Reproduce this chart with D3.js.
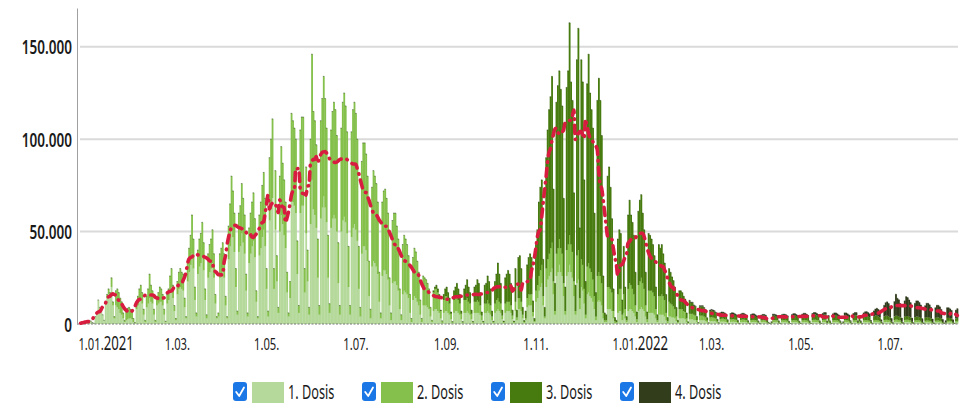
<!DOCTYPE html>
<html>
<head>
<meta charset="utf-8">
<script src="https://cdn.jsdelivr.net/npm/d3@7"></script>
<style>
  body { margin: 0; background: #fff; }
  svg { display: block; font-family: "Noto Sans", "DejaVu Sans", sans-serif; }
</style>
</head>
<body>
<svg id="chart" width="968" height="404"></svg>
<script>
// Tägliche Impfungen (in Tausend), eine Zeile = eine Woche (Mo–So)
const START = "2021-01-01";
const DOSE3_START = "2021-08-30";
const DOSE4_START = "2022-02-21";

const DOSE1 = [
  0.3,0.2,0.1,
  1.2,1.5,1.8,2.0,1.6,0.8,0.4,   // 04.01.
  4,6,13,9,8,5,2,
  11,14,16,14,20,10,3,
  10,9,8,6,5,3,1,
  2,2.5,3,3,2.5,1,0.3,           // 01.02.
  8,10,12,13,11,5,1,
  9,11,14,12,11,5,1,
  10,11,12,12,10,5,1,
  11,13,17,20,14,7,2,            // 01.03.
  16,19,20,19,18,9,3,
  23,28,32,38,30,13,4,
  27,31,33,36,29,13,3,
  25,28,30,33,25,11,3,
  4,25,27,29,25,10,3,            // 05.04.
  35,42,52,47,39,20,5,
  39,42,49,44,38,18,4,
  33,38,42,45,36,12,3,
  37,41,47,51,42,19,4,           // 03.05.
  56,62,68,19,51,23,6,
  50,59,54,48,41,17,4,
  14,68,66,64,60,27,6,
  60,64,64,17,49,23,5,           // 31.05.
  54,78,62,59,52,25,5,
  57,63,69,63,55,25,6,
  52,57,59,57,50,22,5,
  50,56,58,55,49,20,5,           // 28.06.
  47,52,54,51,45,19,4,
  38,42,42,40,34,15,3,
  31,34,33,31,27,12,3,
  26,29,29,27,24,10,2,
  22,23,23,21,18,8,2,            // 02.08.
  16,18,17,16,14,6,1,
  13,15,14,12,10,5,1,
  10,10,10,9,8,4,1,
  7,8,8,7,6,3,0.5,               // 30.08.
  6,7,7,6,5,2.5,0.5,
  6,7,7,6,5,2.5,0.5,
  6,6,7,6,5,2.5,0.5,
  6,6,6,6,5,2,0.5,
  6,6,7,6,5,2,0.5,               // 04.10.
  6,7,8,7,6,2.5,0.5,
  6,7,7,7,6,2.5,0.5,
  7,2,8,8,7,3,0.6,
  2,9,10,10,10,4,1,              // 01.11.
  12,14,18,20,22,10,3,
  20,24,26,28,30,16,5,
  26,28,32,28,26,15,5,
  26,28,32,28,25,15,5,           // 29.11.
  22,24,8,20,18,11,3,
  16,17,15,14,12,8,2,
  12,13,12,10,3,1,1,
  8,8,8,7,3,0.5,0.5,
  6,7,7,2,6,3,1,                 // 03.01.2022
  7,8,8,7,6,4,1,
  7,8,9,8,7,4,1,
  6,6,6,6,5,3,1,
  5,5,5,5,4,2,0.5,               // 31.01.
  4,4,3.5,3.5,3,1.5,0.5,
  3,3,3,3,2.5,1,0.3,
  2.5,2.5,2.5,2,2,1,0.2,
  2,2,2,2,1.5,0.8,0.2,           // 28.02.
  1.5,1.6,1.5,1.5,1.3,0.6,0.2,
  1.2,1.3,1.3,1.2,1.1,0.5,0.1,
  1.1,1.2,1.2,1.1,1,0.4,0.1,
  1,1.1,1.1,1,0.9,0.4,0.1,
  0.9,1,1,0.9,0.8,0.3,0.1,       // 04.04.
  0.9,1,1,0.9,0.4,0.2,0.05,
  0.2,1,1,1,0.9,0.3,0.1,
  0.9,1,1,0.9,0.8,0.3,0.05,
  0.9,1,1,0.9,0.8,0.3,0.1,       // 02.05.
  0.9,1,1,0.9,0.8,0.3,0.1,
  1,1.1,1.1,1,0.9,0.3,0.1,
  1,1.1,1.1,0.3,0.8,0.3,0.1,
  0.9,1,1,0.9,0.8,0.3,0.1,       // 30.05.
  0.2,1,1,0.9,0.8,0.3,0.1,
  0.9,1,1,0.3,0.7,0.3,0.1,
  0.9,1,1,0.9,0.8,0.3,0.1,
  0.9,1.1,1,0.9,0.8,0.3,0.1,     // 27.06.
  1,1.1,1.1,1,0.9,0.3,0.1,
  1,1.2,1.1,1,0.9,0.3,0.1,
  1,1.1,1.1,1,0.9,0.3,0.1,
  0.9,1,1,0.9,0.8,0.3,0.1,
  0.8,0.9,0.9,0.8,0.7,0.3,0.1,   // 01.08.
  0.8,0.9,0.9,0.8,0.7,0.3,0.1,
  0.2,0.8,0.8,0.8,0.7,0.3,0.1,
  0.7,0.8
];

const DOSE2 = [
  0,0,0,
  0,0,0,0,0,0,0,
  0,0,0,0,0,0,0,
  1,2,3,3,5,2,1,
  8,10,9,8,7,3,1,
  5,6,6,5,5,2,0.5,
  4,5,7,8,6,3,1,
  6,8,13,9,7,3,1,
  5,6,8,7,6,3,0.5,
  5,6,9,10,7,3,1,
  7,9,10,9,9,5,1,
  11,13,16,21,16,7,2,
  13,15,16,19,15,6,2,
  13,15,16,18,13,5,1,
  2,13,14,15,13,5,1,
  18,23,28,25,21,10,2,
  21,22,27,24,21,9,2,
  19,22,24,26,21,6,1,
  22,25,28,31,26,11,3,
  34,38,43,11,32,14,3,
  30,37,33,30,25,11,2,
  9,46,44,42,40,18,4,
  45,48,48,13,36,17,4,
  46,68,53,51,45,21,5,
  53,59,65,59,51,23,5,
  53,58,61,59,52,22,5,
  56,64,67,63,55,22,5,
  57,64,66,63,55,23,5,
  50,56,56,52,46,19,5,
  43,49,47,45,39,16,3,
  40,43,44,41,36,15,4,
  34,37,37,32,28,11,3,
  27,30,29,27,23,10,2,
  23,26,25,22,18,8,2,
  16,15,14,13,11,5,1,
  10,11,11,10,8,4,1,
  7,8,8,7,6,3,0.5,
  7,7,8,7,6,3,0.5,
  7,7,7,6,6,3,0.5,
  6,6,7,6,5,2.5,0.5,
  5,5,6,5,5,2,0.5,
  5,6,6,5,5,2,0.5,
  5,5,5,5,4,2,0.5,
  5,1.5,6,6,5,2,0.5,
  1,5,6,6,6,2.5,0.5,
  6,7,8,9,10,5,1,
  10,11,12,13,14,7,2,
  12,13,14,13,12,7,2,
  14,15,16,15,14,8,2,
  15,16,6,15,14,8,2,
  15,16,15,14,12,7,2,
  14,15,14,12,3,1,1,
  12,12,11,10,4,1,0.5,
  10,12,12,3,10,5,1,
  12,14,13,12,10,6,1.5,
  14,15,16,14,12,6,1.5,
  12,12,12,11,10,5,1,
  10,10,11,10,9,4,1,
  8,7,7,6,5,2.5,0.5,
  5,5,5,4,4,2,0.3,
  3,3,3,3,2.5,1,0.2,
  2.5,2.5,2.5,2,2,1,0.2,
  2,2,2,1.8,1.6,0.7,0.2,
  1.5,1.6,1.6,1.5,1.3,0.6,0.1,
  1.3,1.4,1.4,1.3,1.2,0.5,0.1,
  1.2,1.3,1.3,1.2,1.1,0.4,0.1,
  1.1,1.2,1.2,1.1,1,0.4,0.1,
  1,1.1,1.1,1,0.5,0.2,0.05,
  0.3,1.1,1.1,1,1,0.4,0.1,
  1,1.1,1.1,1,0.9,0.3,0.05,
  1,1.1,1.1,1,0.9,0.3,0.1,
  1,1.1,1.1,1,0.9,0.3,0.1,
  1.1,1.2,1.2,1.1,1,0.3,0.1,
  1.1,1.2,1.2,0.3,0.9,0.3,0.1,
  1,1.1,1.1,1,0.9,0.3,0.1,
  0.2,1.1,1.1,1,0.9,0.3,0.1,
  1,1.1,1.1,0.3,0.8,0.3,0.1,
  1,1.1,1.1,1,0.9,0.3,0.1,
  1,1.1,1.1,1,0.9,0.3,0.1,
  1.1,1.2,1.2,1.1,1,0.3,0.1,
  1.1,1.3,1.2,1.1,1,0.3,0.1,
  1.1,1.2,1.2,1.1,1,0.3,0.1,
  1,1.1,1.1,1,0.9,0.3,0.1,
  0.9,1,1,0.9,0.8,0.3,0.1,
  0.9,1,1,0.9,0.8,0.3,0.1,
  0.2,0.9,0.9,0.9,0.8,0.3,0.1,
  0.8,0.9
];

// ab 30.08.2021
const DOSE3 = [
  1,1,2,2,2,0.5,0.2,
  3,4,5,4,3,1,0.3,
  5,6,7,6,5,1.5,0.3,
  6,8,10,8,6,2,0.4,
  8,9,11,10,7,2,0.5,
  10,11,13,12,9,3,0.5,
  12,14,19,15,11,3,0.6,
  14,15,17,15,12,3,0.6,
  18,4,22,23,18,4,0.8,
  4,18,20,22,20,6,1.5,
  25,30,40,45,46,20,5,
  60,70,78,82,90,50,15,
  82,88,91,86,80,46,13,
  88,94,115,88,82,48,14,
  106,120,38,108,99,59,18,
  99,113,95,88,82,45,13,
  95,105,95,80,20,4,3,
  60,65,55,40,12,2,1,
  30,32,30,8,26,12,2,
  40,45,38,36,32,18,4,
  40,44,45,38,32,18,4,
  31,30,28,26,22,12,3,
  28,26,27,23,20,10,2,
  18,17,15,14,12,5,1,
  10,10,9,8,7,3,0.6,
  7,6,6,5,5,2,0.4,
  5,5,5,4.5,4,1.5,0.3,
  3.5,3.8,3.6,3.4,3,1.2,0.3,
  2.8,3,2.9,2.7,2.4,1,0.2,
  2.6,2.8,2.7,2.5,2.2,0.9,0.2,
  2.5,2.6,2.6,2.4,2.1,0.8,0.2,
  2.4,2.5,2.5,2.3,2,0.8,0.2,
  2.2,2.4,2.4,2.2,1,0.4,0.1,
  0.5,2.4,2.4,2.3,2,0.8,0.2,
  2.3,2.4,2.4,2.3,2,0.7,0.1,
  2.4,2.6,2.6,2.4,2.1,0.8,0.2,
  2.5,2.7,2.7,2.5,2.2,0.8,0.2,
  2.6,2.8,2.8,2.6,2.3,0.8,0.2,
  2.6,2.8,2.8,0.7,2.1,0.8,0.2,
  2.5,2.7,2.7,2.5,2.2,0.8,0.2,
  0.5,2.6,2.6,2.4,2.1,0.8,0.2,
  2.4,2.6,2.6,0.7,1.9,0.7,0.2,
  2.3,2.5,2.5,2.3,2,0.8,0.2,
  2.2,2.4,2.4,2.2,1.9,0.7,0.2,
  2,2.2,2.2,2,1.8,0.6,0.2,
  2,2.1,2.1,2,1.7,0.6,0.1,
  1.9,2,2,1.9,1.7,0.6,0.1,
  1.8,1.9,1.9,1.8,1.6,0.5,0.1,
  1.7,1.8,1.8,1.7,1.5,0.5,0.1,
  1.6,1.7,1.7,1.6,1.4,0.5,0.1,
  0.4,1.6,1.6,1.5,1.4,0.5,0.1,
  1.5,1.6
];

// ab 21.02.2022
const DOSE4 = [
  0.3,0.3,0.3,0.3,0.3,0.1,0,
  0.4,0.4,0.4,0.4,0.3,0.1,0,
  0.5,0.5,0.5,0.5,0.4,0.1,0,
  0.6,0.6,0.6,0.6,0.5,0.2,0,
  0.7,0.7,0.7,0.6,0.6,0.2,0.05,
  0.7,0.8,0.8,0.7,0.6,0.2,0.05,
  0.7,0.8,0.8,0.7,0.6,0.2,0.05,
  0.7,0.7,0.7,0.7,0.3,0.1,0.05,
  0.2,0.8,0.8,0.7,0.6,0.2,0.05,
  0.8,0.8,0.8,0.8,0.7,0.2,0.05,
  0.8,0.9,0.9,0.8,0.7,0.2,0.05,
  0.9,1,1,0.9,0.8,0.3,0.05,
  1,1.1,1.1,1,0.9,0.3,0.05,
  1,1.1,1.1,0.3,0.8,0.3,0.05,
  1.1,1.2,1.2,1.1,1,0.3,0.05,
  0.3,1.3,1.3,1.2,1.1,0.4,0.05,
  1.4,1.5,1.5,0.4,1.1,0.4,0.05,
  1.8,2,2.1,2,1.8,0.5,0.1,
  3,3.5,4,3.8,3.2,1,0.2,
  6,7,7.5,7,6,1.8,0.3,
  8,11.5,9.5,9,7.5,2,0.4,
  8.5,10.5,10,9,8,2,0.4,
  7.5,8.5,8.5,8,7,1.8,0.3,
  6.5,7.5,7.5,7,6,1.6,0.3,
  5.5,6.5,6.5,6,5,1.4,0.3,
  1,5.5,5.5,5,4.5,1.2,0.2,
  4.5,5
];

const SERIES = ["1. Dosis", "2. Dosis", "3. Dosis", "4. Dosis"];
const COLORS = ["#b5d99b", "#84c04b", "#477b10", "#323d1c"];
const Y_TICKS = [0, 50000, 100000, 150000];
const Y_TICK_LABELS = ["0", "50.000", "100.000", "150.000"];
const X_TICKS = ["2021-01-01", "2021-03-01", "2021-05-01", "2021-07-01", "2021-09-01",
                 "2021-11-01", "2022-01-01", "2022-03-01", "2022-05-01", "2022-07-01"];
const X_TICK_LABELS = ["1.01.2021", "1.03.", "1.05.", "1.07.", "1.09.",
                       "1.11.", "1.01.2022", "1.03.", "1.05.", "1.07."];

const SX = 0.66; // horizontale Stauchung der Schrift wie im Original

const parse = d3.utcParse("%Y-%m-%d");
const t0 = parse(START);
const off3 = d3.utcDay.count(t0, parse(DOSE3_START));
const off4 = d3.utcDay.count(t0, parse(DOSE4_START));
const keys = ["d1", "d2", "d3", "d4"];

const rows = DOSE1.map((v, i) => ({
  date: d3.utcDay.offset(t0, i),
  d1: v * 1000,
  d2: (DOSE2[i] || 0) * 1000,
  d3: (DOSE3[i - off3] || 0) * 1000,
  d4: (DOSE4[i - off4] || 0) * 1000,
}));
rows.forEach(r => r.total = r.d1 + r.d2 + r.d3 + r.d4);

// 7-Tage-Mittel (zentriert)
const avg = rows.map((r, i) => ({
  date: r.date,
  value: d3.mean(rows.slice(Math.max(0, i - 3), i + 4), d => d.total),
}));

const svg = d3.select("#chart");

const x = d3.scaleUtc()
  .domain([parse("2020-12-30"), parse("2022-08-24")])
  .range([77, 958]);
const y = d3.scaleLinear().domain([0, 171000]).range([324, 8]);
const color = d3.scaleOrdinal().domain(keys).range(COLORS);
const dayW = d => x(d3.utcDay.offset(d, 1)) - x(d);

// Gitterlinien
svg.append("g")
  .selectAll("line")
  .data(Y_TICKS.filter(v => v > 0))
  .join("line")
    .attr("x1", 80).attr("x2", 958)
    .attr("y1", d => y(d)).attr("y2", d => y(d))
    .attr("stroke", "#dadada")
    .attr("stroke-width", 2);

// Gestapelte Balken
const stacked = d3.stack().keys(keys)(rows);
svg.append("g")
  .selectAll("g")
  .data(stacked)
  .join("g")
    .attr("fill", d => color(d.key))
  .selectAll("rect")
  .data(d => d.filter(p => p[1] > p[0]))
  .join("rect")
    .attr("x", p => x(p.data.date))
    .attr("width", p => dayW(p.data.date) + 0.35)
    .attr("y", p => y(p[1]))
    .attr("height", p => y(p[0]) - y(p[1]));

// dunkle Kante oben an jedem Balken
svg.append("g")
  .selectAll("rect")
  .data(rows.filter(r => r.total > 0))
  .join("rect")
    .attr("x", r => x(r.date))
    .attr("width", r => dayW(r.date))
    .attr("y", r => y(r.total) - 0.5)
    .attr("height", 1)
    .attr("fill", "#1e2a12")
    .attr("opacity", 0.45);

// Nulllinie
svg.append("line")
  .attr("x1", 77).attr("x2", 958)
  .attr("y1", y(0)).attr("y2", y(0))
  .attr("stroke", "#777")
  .attr("stroke-dasharray", "2,1.5");

// 7-Tage-Linie
const line = d3.line()
  .x(d => x(d.date) + dayW(d.date) / 2)
  .y(d => y(d.value))
  .curve(d3.curveMonotoneX);
svg.append("path")
  .datum(avg)
  .attr("d", line)
  .attr("fill", "none")
  .attr("stroke", "#d81c3f")
  .attr("stroke-width", 3.6)
  .attr("stroke-linecap", "round")
  .attr("stroke-dasharray", "8 6 0.5 6");

// Y-Achse
const yAxis = svg.append("g")
  .attr("transform", "translate(77,0)")
  .call(d3.axisLeft(y)
    .tickValues(Y_TICKS)
    .tickFormat((d, i) => Y_TICK_LABELS[i])
    .tickSize(0)
    .tickSizeOuter(0));
yAxis.select(".domain").attr("stroke", "#a0a0a0");
yAxis.selectAll("text")
  .attr("x", 0).attr("dy", 0)
  .attr("transform", `translate(-5,7) scale(${SX},1)`)
  .attr("font-size", 20.5)
  .attr("font-weight", 600)
  .attr("font-family", "\"Noto Sans\", sans-serif")
  .attr("fill", "#1a1a1a");

// X-Achse
const xAxis = svg.append("g")
  .attr("transform", `translate(0,${y(0)})`)
  .call(d3.axisBottom(x)
    .tickValues(X_TICKS.map(parse))
    .tickFormat("")
    .tickSize(0));
xAxis.select(".domain").remove();
xAxis.selectAll(".tick text")
  .attr("text-anchor", "start")
  .attr("x", 0).attr("y", 0).attr("dy", 0)
  .attr("transform", `translate(-2,26) scale(${SX},1)`)
  .attr("font-size", 17)
  .attr("font-family", "\"Noto Sans\", sans-serif")
  .attr("fill", "#1a1a1a")
  .each(function(d, i) {
    const lab = X_TICK_LABELS[i];
    const m = lab.match(/^(\d+\.\d+\.)(\d{4})?$/);
    const t = d3.select(this).text(m[1]);
    if (m[2]) t.append("tspan").attr("font-size", 20).text(m[2]);
  });

// Legende
const legend = svg.append("g")
  .selectAll("g")
  .data(SERIES)
  .join("g")
    .attr("transform", (d, i) => `translate(${233 + i * 129},382)`);
legend.append("rect")
  .attr("width", 14).attr("height", 19).attr("rx", 3)
  .attr("fill", "#1b76e6");
legend.append("path")
  .attr("d", "M3.2,10 L6.2,14 L11,5.5")
  .attr("fill", "none")
  .attr("stroke", "#fff")
  .attr("stroke-width", 1.8)
  .attr("stroke-linecap", "round")
  .attr("stroke-linejoin", "round");
legend.append("rect")
  .attr("x", 19).attr("width", 32).attr("height", 21)
  .attr("fill", (d, i) => COLORS[i]);
legend.append("text")
  .attr("transform", `translate(55,16.5) scale(0.62,1)`)
  .attr("font-size", 20.5)
  .attr("fill", "#1a1a1a")
  .text(d => d);
</script>
</body>
</html>
